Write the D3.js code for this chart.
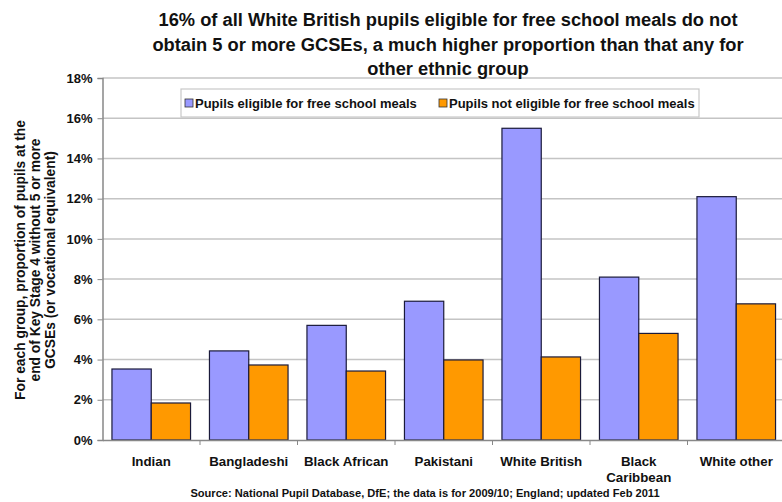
<!DOCTYPE html>
<html>
<head>
<meta charset="utf-8">
<script src="https://cdn.jsdelivr.net/npm/d3@7"></script>
<style>
  body { margin: 0; background: #fff; }
  svg { font-family: "Liberation Sans", Arial, sans-serif; font-weight: bold; }
</style>
</head>
<body>
<div id="chart"></div>
<script>
// data
var groups = ["Indian", "Bangladeshi", "Black African", "Pakistani", "White British", "Black Caribbean", "White other"];
var eligible = [3.53, 4.43, 5.7, 6.9, 15.5, 8.1, 12.1];
var notEligible = [1.84, 3.73, 3.43, 3.98, 4.13, 5.3, 6.77];
var seriesNames = ["Pupils eligible for free school meals", "Pupils not eligible for free school meals"];
var yTicks = [0, 2, 4, 6, 8, 10, 12, 14, 16, 18];
var titleLines = [
    "16% of all White British pupils eligible for free school meals do not",
    "obtain 5 or more GCSEs, a much higher proportion than that any for",
    "other ethnic group"
];
var yLabelLines = [
    "For each group, proportion of pupils at the",
    "end of Key Stage 4 without 5 or more",
    "GCSEs (or vocational equivalent)"
];
var source = "Source: National Pupil Database, DfE; the data is for 2009/10; England; updated Feb 2011";

var w = 782, h = 502;
var plotLeft = 102.5, plotRight = 785, plotTop = 78, plotBottom = 440;
var colors = ["#9999ff", "#ff9900"];

var svg = d3.select("#chart").append("svg").attr("width", w).attr("height", h);

var xScale = d3.scaleBand().domain(d3.range(groups.length)).range([plotLeft, plotRight]);
var xInner = d3.scaleBand().domain([0, 1])
    .range([xScale.bandwidth() * 0.097, xScale.bandwidth() * 0.903]);
var yScale = d3.scaleLinear().domain([0, 18]).range([plotBottom, plotTop]);

// gridlines
svg.append("g").selectAll("line").data(yTicks.slice(1)).enter().append("line")
    .attr("x1", plotLeft).attr("x2", plotRight)
    .attr("y1", function (d) { return yScale(d); })
    .attr("y2", function (d) { return yScale(d); })
    .attr("stroke", "#c4c4c4").attr("stroke-width", 1.5);

// y axis
var yAxis = d3.axisLeft(yScale).tickValues(yTicks).tickSize(5).tickPadding(5)
    .tickFormat(function (d) { return d + "%"; });
var yg = svg.append("g").attr("transform", "translate(" + plotLeft + ",0)").call(yAxis);
yg.select(".domain").attr("stroke", "#888").attr("stroke-width", 1.5);
yg.selectAll(".tick line").attr("stroke", "#888");
yg.selectAll("text").attr("font-size", "13px").attr("font-weight", "bold")
    .attr("font-family", "Liberation Sans, Arial, sans-serif").attr("fill", "#111");

// bars
var rows = groups.map(function (g, i) { return [eligible[i], notEligible[i]]; });
var cat = svg.append("g").selectAll("g").data(rows).enter().append("g")
    .attr("transform", function (d, i) { return "translate(" + xScale(i) + ",0)"; });
cat.selectAll("rect").data(function (d) { return d; }).enter().append("rect")
    .attr("x", function (d, j) { return xInner(j); })
    .attr("y", function (d) { return yScale(d); })
    .attr("width", xInner.bandwidth())
    .attr("height", function (d) { return plotBottom - yScale(d); })
    .attr("fill", function (d, j) { return colors[j]; })
    .attr("stroke", "#1a1a3a").attr("stroke-width", 1.2);

// x axis
var xAxis = d3.axisBottom(xScale).tickSize(0).tickFormat("");
var xg = svg.append("g").attr("transform", "translate(0," + plotBottom + ")").call(xAxis);
xg.select(".domain").attr("stroke", "#888").attr("stroke-width", 1.5);
svg.append("g").selectAll("line").data(d3.range(1, groups.length)).enter().append("line")
    .attr("x1", function (d) { return xScale(d); }).attr("x2", function (d) { return xScale(d); })
    .attr("y1", plotBottom).attr("y2", plotBottom + 5).attr("stroke", "#888");

var xl = svg.append("g").selectAll("text").data(groups).enter().append("text")
    .attr("text-anchor", "middle").attr("font-size", "13.3px").attr("fill", "#111")
    .attr("transform", function (d, i) { return "translate(" + (xScale(i) + xScale.bandwidth() / 2) + ",466)"; });
xl.each(function (d) {
    var parts = d === "Black Caribbean" ? ["Black", "Caribbean"] : [d];
    var t = d3.select(this);
    parts.forEach(function (p, k) {
        t.append("tspan").attr("x", 0).attr("dy", k === 0 ? 0 : 16).text(p);
    });
});

// title
svg.append("g").selectAll("text").data(titleLines).enter().append("text")
    .attr("x", 448).attr("y", function (d, i) { return 26 + i * 24.5; })
    .attr("text-anchor", "middle").attr("font-size", "18.3px").attr("fill", "#111")
    .text(function (d) { return d; });

// y label
svg.append("g").attr("transform", "translate(0,260) rotate(-90)")
    .selectAll("text").data(yLabelLines).enter().append("text")
    .attr("x", 0).attr("y", function (d, i) { return 25 + i * 15; })
    .attr("text-anchor", "middle").attr("font-size", "13.8px").attr("fill", "#111")
    .text(function (d) { return d; });

// legend
var legend = svg.append("g");
legend.append("rect").attr("x", 181).attr("y", 89).attr("width", 518).attr("height", 28)
    .attr("fill", "#fff").attr("stroke", "#c8c8c8").attr("stroke-width", 1.2);
var lx = [185, 439];
seriesNames.forEach(function (s, i) {
    legend.append("rect").attr("x", lx[i]).attr("y", 99).attr("width", 8).attr("height", 8)
        .attr("fill", colors[i]).attr("stroke", "#333").attr("stroke-width", 0.8);
    legend.append("text").attr("x", lx[i] + 10).attr("y", 108)
        .attr("font-size", "13px").attr("fill", "#111").text(s);
});

// source
svg.append("text").attr("x", 425).attr("y", 497).attr("text-anchor", "middle")
    .attr("font-size", "11.1px").attr("fill", "#111").text(source);
</script>
</body>
</html>
